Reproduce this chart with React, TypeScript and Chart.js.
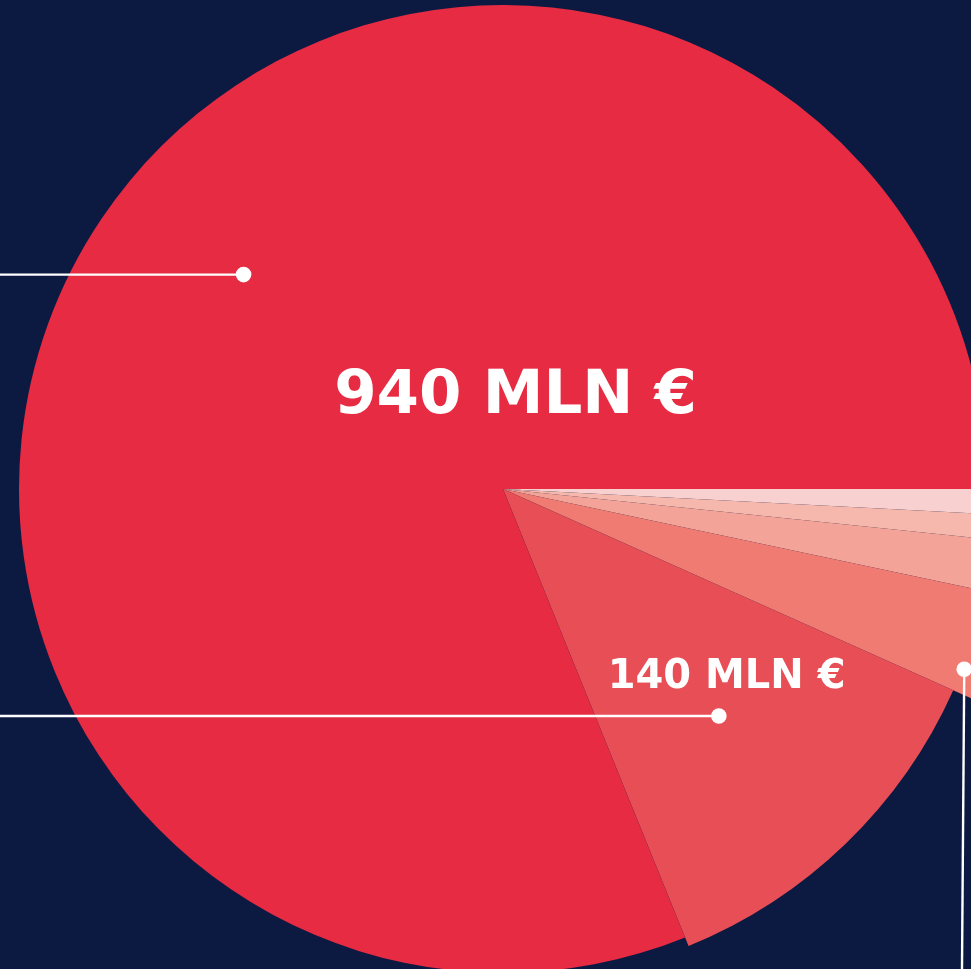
import React, { useEffect, useRef } from "react";
import { Chart, registerables } from "chart.js";

Chart.register(...registerables);

// Data (clockwise from 3 o'clock)
const categories = ["Segment A", "Segment B", "Segment C", "Segment D", "Segment E", "Segment F"];
const values = [9.5, 9.5, 19.5, 39, 141, 940];
const valueLabels = ["", "", "", "", "140 MLN €", "940 MLN €"];

// Styles
const sliceColors = ["#F7D0CF", "#F6B8AC", "#F4A398", "#F07B73", "#E84E55", "#E72B43"];
const radiusScale = [1.12, 1.12, 1.12, 1.12, 1.019, 1];
const BG = "#0C1A42";

// label anchors (baseline-centre) as fractions of radius from pie centre
const labelAnchors: Record<number, { fx: number; fy: number; size: number }> = {
  5: { fx: 0.026, fy: -0.157, size: 61 },
  4: { fx: 0.462, fy: 0.411, size: 40 },
};

// leader-line dots as fractions of radius from pie centre
const leaders = [
  { fx: -0.536, fy: -0.443, dir: "left" },
  { fx: 0.446, fy: 0.469, dir: "left" },
  { fx: 0.953, fy: 0.3725, dir: "down" },
];

const W = 1010;
const H = 1000;

const varRadiusPlugin = {
  id: "varRadius",
  beforeDatasetDraw(chart: any, args: any) {
    const meta = chart.getDatasetMeta(args.index);
    const base = (meta.controller as any).outerRadius;
    meta.data.forEach((arc: any, i: number) => {
      arc.outerRadius = base * (radiusScale[i] ?? 1);
    });
  },
};

const overlayPlugin = {
  id: "overlay",
  afterDraw(chart: any) {
    const ctx = chart.ctx as CanvasRenderingContext2D;
    const meta = chart.getDatasetMeta(0);
    const ctrl: any = meta.controller;
    const R = ctrl.outerRadius;
    const first: any = meta.data[0];
    const cx = first.x;
    const cy = first.y;
    ctx.save();
    // leader lines
    ctx.strokeStyle = "#FFFFFF";
    ctx.fillStyle = "#FFFFFF";
    ctx.lineWidth = 2.4;
    leaders.forEach((l) => {
      const x = cx + l.fx * R;
      const y = cy + l.fy * R;
      ctx.beginPath();
      if (l.dir === "left") {
        ctx.moveTo(0, y);
        ctx.lineTo(x, y);
      } else {
        ctx.moveTo(x, y);
        ctx.lineTo(x - 2.5, chart.height);
      }
      ctx.stroke();
      ctx.beginPath();
      ctx.arc(x, y, 7.8, 0, Math.PI * 2);
      ctx.fill();
    });
    // value labels
    ctx.textAlign = "center";
    ctx.textBaseline = "alphabetic";
    Object.keys(labelAnchors).forEach((k) => {
      const i = Number(k);
      const a = labelAnchors[i];
      ctx.font = `bold ${a.size}px 'DejaVu Sans'`;
      ctx.fillText(valueLabels[i], cx + a.fx * R, cy + a.fy * R);
    });
    ctx.restore();
  },
};

export default function App() {
  const ref = useRef<HTMLCanvasElement | null>(null);
  useEffect(() => {
    if (!ref.current) return;
    const chart = new Chart(ref.current, {
      type: "pie",
      data: {
        labels: categories,
        datasets: [
          {
            data: values,
            backgroundColor: sliceColors,
            borderWidth: 0,
          },
        ],
      },
      options: {
        responsive: false,
        animation: false,
        rotation: 90,
        layout: { padding: { left: 19, top: 5, right: W - 987, bottom: H - 973 } },
        plugins: {
          legend: { display: false },
          tooltip: { enabled: false },
        },
        events: [],
      },
      plugins: [varRadiusPlugin, overlayPlugin],
    });
    return () => chart.destroy();
  }, []);
  return (
    <div
      style={{
        position: "fixed",
        left: 0,
        top: 0,
        width: 971,
        height: 969,
        overflow: "hidden",
        background: BG,
      }}
    >
      <canvas ref={ref} width={W} height={H} style={{ display: "block", width: W, height: H }} />
    </div>
  );
}
